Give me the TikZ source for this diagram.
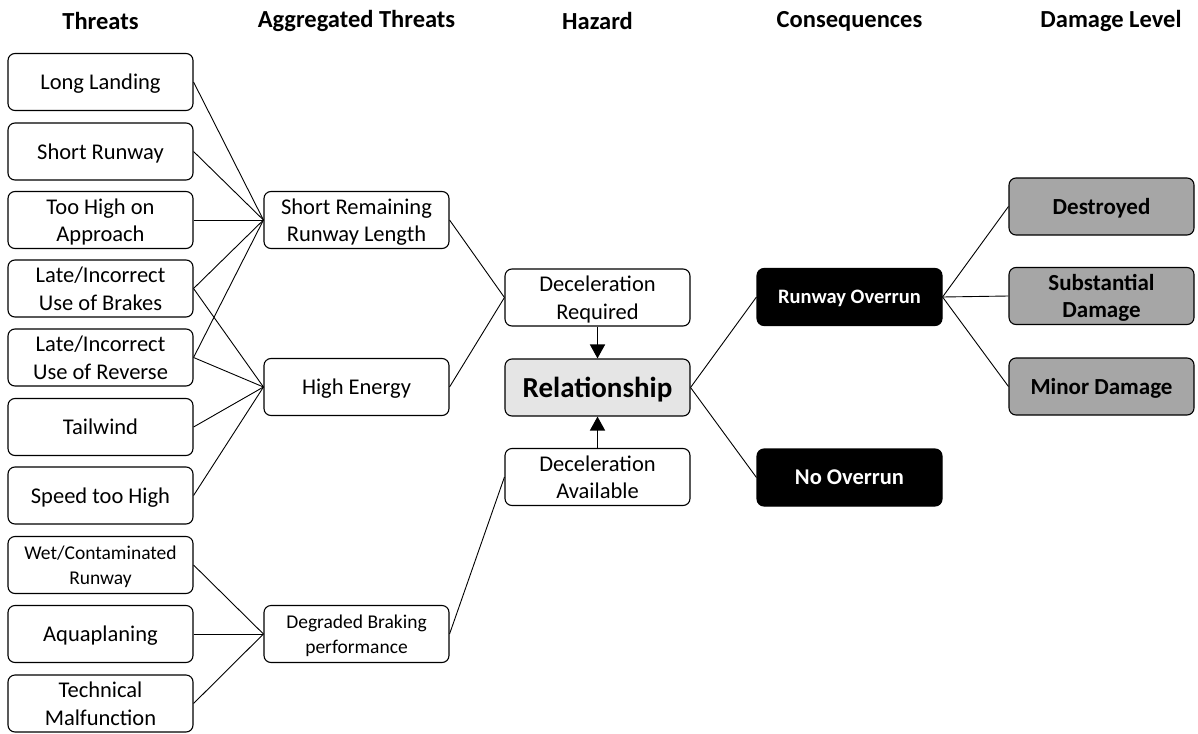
\documentclass[tikz,border=0pt]{standalone}
\usepackage{fontspec}
\setmainfont{Carlito}
\usetikzlibrary{arrows.meta}
\begin{document}
\begin{tikzpicture}[x=1pt,y=-1pt,
  box/.style={draw=black,line width=1.1pt,rounded corners=7pt,fill=white,
    minimum width=185pt,minimum height=57pt,inner sep=1pt,align=center,
    text depth=0pt,font=\fontsize{22.5}{27.5}\selectfont},
  small/.style={font=\fontsize{19.5}{25}\selectfont},
  conbox/.style={box,fill=black,text=white,font=\bfseries\fontsize{20.5}{25}\selectfont},
  dmgbox/.style={box,fill=gray!70,font=\bfseries\fontsize{23}{27.5}\selectfont},
  head/.style={font=\bfseries\fontsize{24.5}{29}\selectfont},
  link/.style={line width=0.9pt},
  flow/.style={line width=1.6pt,-{Triangle[length=14pt,width=15pt]}}]
\useasboundingbox (0,0) rectangle (1198,733);
% column headings
\node[head] (h1) at (100.5,21) {Threats};
\node[head] (h2) at (356.5,21) {Aggregated Threats};
\node[head] (h3) at (597.5,21) {Hazard};
\node[head] (h4) at (849.5,21) {Consequences};
\node[head] (h5) at (1111,21) {Damage Level};
% threats
\node[box] (t1) at (100.5,82) {Long Landing};
\node[box] (t2) at (100.5,151.5) {Short Runway};
\node[box] (t3) at (100.5,220) {Too High on\\Approach};
\node[box] (t4) at (100.5,288.5) {Late/Incorrect\\Use of Brakes};
\node[box] (t5) at (100.5,357.5) {Late/Incorrect\\Use of Reverse};
\node[box] (t6) at (100.5,427) {Tailwind};
\node[box] (t7) at (100.5,495.5) {Speed too High};
\node[box,small] (t8) at (100.5,565) {Wet/Contaminated\\Runway};
\node[box] (t9) at (100.5,634) {Aquaplaning};
\node[box] (t10) at (100.5,703.5) {Technical\\Malfunction};
% aggregated threats
\node[box] (a1) at (356.5,220) {Short Remaining\\Runway Length};
\node[box] (a2) at (356.5,387) {High Energy};
\node[box,small] (a3) at (356.5,634) {Degraded Braking\\performance};
% hazard
\node[box] (dr) at (597.5,297.5) {Deceleration\\Required};
\node[box,fill=gray!20,font=\bfseries\fontsize{29}{34}\selectfont] (rel) at (597.5,387.5) {Relationship};
\node[box] (da) at (597.5,477) {Deceleration\\Available};
% consequences
\node[conbox] (ro) at (849.5,297) {Runway Overrun};
\node[conbox,font=\bfseries\fontsize{22.5}{27}\selectfont] (no) at (849.5,477.5) {No Overrun};
% damage level
\node[dmgbox] (d1) at (1101.5,206.5) {Destroyed};
\node[dmgbox] (d2) at (1101.5,296) {Substantial\\Damage};
\node[dmgbox] (d3) at (1101.5,386.5) {Minor Damage};
% threat links
\foreach \t in {t1,t2,t3,t4,t5} \draw[link] (\t.east) -- (a1.west);
\foreach \t in {t4,t5,t6,t7} \draw[link] (\t.east) -- (a2.west);
\foreach \t in {t8,t9,t10} \draw[link] (\t.east) -- (a3.west);
% hazard links
\draw[link] (a1.east) -- (dr.west);
\draw[link] (a2.east) -- (dr.west);
\draw[link] (a3.east) -- (da.west);
\draw[flow] (dr.south) -- (rel.north);
\draw[flow] (da.north) -- (rel.south);
% consequence links
\draw[link] (rel.east) -- (ro.west);
\draw[link] (rel.east) -- (no.west);
\foreach \d in {d1,d2,d3} \draw[link] (ro.east) -- (\d.west);
\end{tikzpicture}
\end{document}
